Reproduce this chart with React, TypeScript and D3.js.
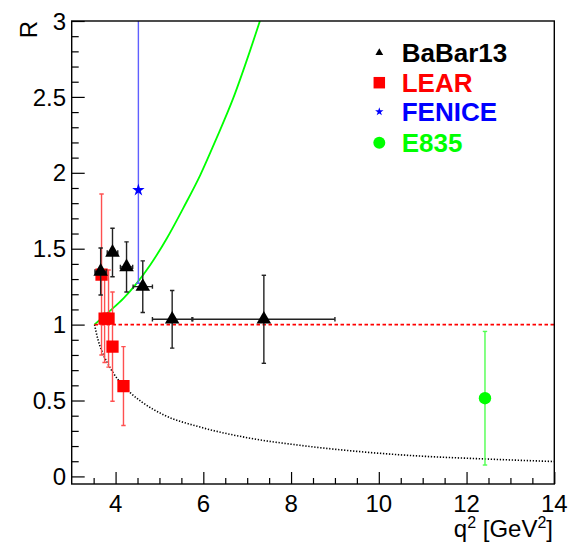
import { useRef, useEffect } from "react";
import * as d3 from "d3";

// BaBar13 (black triangles)
const babarQ = [3.66, 3.93, 4.25, 4.62, 5.29, 7.38];
const babarR = [1.35, 1.475, 1.38, 1.25, 1.035, 1.035];
const babarQErr = [0.13, 0.12, 0.14, 0.22, 0.45, 1.62];
const babarRErr = [0.155, 0.16, 0.165, 0.17, 0.19, 0.29];

// LEAR (red squares)
const learQ = [3.68, 3.75, 3.84, 3.93, 4.18];
const learR = [1.33, 1.04, 1.04, 0.855, 0.595];
const learRErr = [0.53, 0.29, 0.32, 0.36, 0.26];

// FENICE (blue star), upper error runs off the top
const feniceQ = [4.52];
const feniceR = [1.886];
const feniceErrLow = [0.614];
const feniceErrHigh = [1.5];

// E835 (green circle)
const e835Q = [12.42];
const e835R = [0.515];
const e835RErr = [0.44];

// curves
const greenQ = [3.52, 3.87, 4.18, 4.48, 4.79, 5.17, 5.54, 5.93, 6.3, 6.68, 7.06, 7.29];
const greenR = [1.0, 1.09, 1.173, 1.272, 1.393, 1.569, 1.766, 1.985, 2.227, 2.49, 2.8, 3.0];
const dotQ = [3.52, 3.6, 3.68, 3.8, 3.95, 4.15, 4.34, 4.6, 5.1, 5.93, 7.0, 8.2, 9.5, 10.94, 12.42, 14];
const dotR = [1.0, 0.9, 0.83, 0.755, 0.68, 0.605, 0.55, 0.49, 0.405, 0.325, 0.255, 0.205, 0.165, 0.134, 0.115, 0.098];
const unityQ = [3.52, 14];
const unityR = [1, 1];

const xMajor = [4, 6, 8, 10, 12, 14];
const yMajor = [0, 0.5, 1, 1.5, 2, 2.5, 3];

const legendLabels = ["BaBar13", "LEAR", "FENICE", "E835"];
const legendColors = ["#000000", "#ff0000", "#0000ff", "#00ff00"];

const W = 571;
const H = 545;
const FONT = "'Liberation Sans', Arial, Helvetica, sans-serif";

export default function App() {
    const svgRef = useRef<SVGSVGElement | null>(null);

    useEffect(() => {
        if (!svgRef.current) return;
        const svg = d3.select(svgRef.current);
        svg.selectAll("*").remove();

        const x = d3.scaleLinear().domain([3, 14]).range([71.7, 554.3]);
        const y = d3.scaleLinear().domain([-0.05, 3]).range([484, 21]);
        const [x0, x1] = x.range();
        const [y0, y1] = y.range();

        svg.append("defs")
            .append("clipPath")
            .attr("id", "plot-clip")
            .append("rect")
            .attr("x", x0)
            .attr("y", y1)
            .attr("width", x1 - x0)
            .attr("height", y0 - y1);

        const plot = svg.append("g").attr("clip-path", "url(#plot-clip)");

        // dotted black curve
        plot.append("path")
            .attr("d", d3.line<number>().x(d => x(d)).y((_, i) => y(dotR[i])).curve(d3.curveMonotoneX)(dotQ)!)
            .attr("fill", "none")
            .attr("stroke", "#000")
            .attr("stroke-width", 1.6)
            .attr("stroke-dasharray", "1.3,1.7");

        // green curve
        plot.append("path")
            .attr("d", d3.line<number>().x(d => x(d)).y((_, i) => y(greenR[i])).curve(d3.curveMonotoneX)(greenQ)!)
            .attr("fill", "none")
            .attr("stroke", "#00ff00")
            .attr("stroke-width", 1.8);

        // red dashed line at R = 1
        plot.append("path")
            .attr("d", d3.line<number>().x(d => x(d)).y((_, i) => y(unityR[i]))(unityQ)!)
            .attr("fill", "none")
            .attr("stroke", "#ff0000")
            .attr("stroke-width", 1.8)
            .attr("stroke-dasharray", "3.5,2.5");

        const cap = 2.2;
        const vErr = (g: any, q: number, lo: number, hi: number, color: string) => {
            g.append("line").attr("x1", x(q)).attr("x2", x(q)).attr("y1", y(lo)).attr("y2", y(hi))
                .attr("stroke", color).attr("stroke-width", 1.4);
            [lo, hi].forEach(v => {
                g.append("line").attr("x1", x(q) - cap).attr("x2", x(q) + cap).attr("y1", y(v)).attr("y2", y(v))
                    .attr("stroke", color).attr("stroke-width", 1.4);
            });
        };
        const hErr = (g: any, lo: number, hi: number, r: number, color: string) => {
            g.append("line").attr("x1", x(lo)).attr("x2", x(hi)).attr("y1", y(r)).attr("y2", y(r))
                .attr("stroke", color).attr("stroke-width", 1.4);
            [lo, hi].forEach(v => {
                g.append("line").attr("x1", x(v)).attr("x2", x(v)).attr("y1", y(r) - cap).attr("y2", y(r) + cap)
                    .attr("stroke", color).attr("stroke-width", 1.4);
            });
        };

        // LEAR
        const gLear = plot.append("g");
        learQ.forEach((q, i) => vErr(gLear, q, learR[i] - learRErr[i], learR[i] + learRErr[i], "#ff5050"));
        learQ.forEach((q, i) => {
            gLear.append("path")
                .attr("d", d3.symbol(d3.symbolSquare, 150)()!)
                .attr("transform", `translate(${x(q)},${y(learR[i])})`)
                .attr("fill", "#ff0000");
        });

        // FENICE
        const gFen = plot.append("g");
        feniceQ.forEach((q, i) => vErr(gFen, q, feniceR[i] - feniceErrLow[i], feniceR[i] + feniceErrHigh[i], "#6060ff"));
        feniceQ.forEach((q, i) => {
            gFen.append("path")
                .attr("d", d3.symbol(d3.symbolStar, 48)()!)
                .attr("transform", `translate(${x(q)},${y(feniceR[i])})`)
                .attr("fill", "#0000ff");
        });

        // E835
        const gE = plot.append("g");
        e835Q.forEach((q, i) => vErr(gE, q, e835R[i] - e835RErr[i], e835R[i] + e835RErr[i], "#50ff50"));
        e835Q.forEach((q, i) => {
            gE.append("circle").attr("cx", x(q)).attr("cy", y(e835R[i])).attr("r", 6.2).attr("fill", "#00ff00");
        });

        // BaBar13
        const gB = plot.append("g");
        babarQ.forEach((q, i) => {
            vErr(gB, q, babarR[i] - babarRErr[i], babarR[i] + babarRErr[i], "#222");
            hErr(gB, q - babarQErr[i], q + babarQErr[i], babarR[i], "#222");
        });
        babarQ.forEach((q, i) => {
            gB.append("path")
                .attr("d", d3.symbol(d3.symbolTriangle, 92)()!)
                .attr("transform", `translate(${x(q)},${y(babarR[i])})`)
                .attr("fill", "#000");
        });

        // axes (ticks point inward)
        const xMinor = d3.range(3.5, 14, 0.5).filter(v => !xMajor.includes(v));
        const yMinor = d3.range(0.1, 3, 0.1).map(v => +v.toFixed(1)).filter(v => !yMajor.includes(v));

        const ax = svg.append("g").attr("transform", `translate(0,${y0})`);
        ax.call(d3.axisBottom(x).tickValues(xMajor).tickSize(-12).tickFormat(() => ""));
        ax.append("g").call(d3.axisBottom(x).tickValues(xMinor).tickSize(-6).tickFormat(() => ""));
        ax.selectAll(".domain").remove();

        const ay = svg.append("g").attr("transform", `translate(${x0},0)`);
        ay.call(d3.axisLeft(y).tickValues(yMajor).tickSize(-13).tickFormat(() => ""));
        ay.append("g").call(d3.axisLeft(y).tickValues(yMinor).tickSize(-7).tickFormat(() => ""));
        ay.selectAll(".domain").remove();
        svg.selectAll(".tick line").attr("stroke", "#000").attr("stroke-width", 1.2);

        // frame
        svg.append("rect")
            .attr("x", x0).attr("y", y1).attr("width", x1 - x0).attr("height", y0 - y1)
            .attr("fill", "none").attr("stroke", "#000").attr("stroke-width", 1.4);

        // tick labels
        svg.append("g").selectAll("text").data(xMajor).join("text")
            .attr("x", d => x(d)).attr("y", 512)
            .attr("text-anchor", "middle")
            .attr("font-family", FONT).attr("font-size", 24)
            .text(d => d);
        svg.append("g").selectAll("text").data(yMajor).join("text")
            .attr("x", 66).attr("y", d => y(d))
            .attr("dy", "0.36em")
            .attr("text-anchor", "end")
            .attr("font-family", FONT).attr("font-size", 24)
            .text(d => d);

        // axis titles
        const xt = svg.append("text")
            .attr("x", 553).attr("y", 537)
            .attr("text-anchor", "end")
            .attr("font-family", FONT).attr("font-size", 24);
        xt.append("tspan").text("q");
        xt.append("tspan").attr("dy", -9).attr("font-size", 16).text("2");
        xt.append("tspan").attr("dy", 9).text(" [GeV");
        xt.append("tspan").attr("dy", -9).attr("font-size", 16).text("2");
        xt.append("tspan").attr("dy", 9).text("]");

        svg.append("text")
            .attr("transform", "translate(37,21) rotate(-90)")
            .attr("text-anchor", "end")
            .attr("font-family", FONT).attr("font-size", 24)
            .text("R");

        // legend
        const lg = svg.append("g");
        const rowY = [52.7, 82.7, 111.7, 142.7];
        const legendSymbols = [
            d3.symbol(d3.symbolTriangle, 26)(),
            d3.symbol(d3.symbolSquare, 132)(),
            d3.symbol(d3.symbolStar, 22)(),
            null,
        ];
        legendLabels.forEach((label, i) => {
            if (legendSymbols[i]) {
                lg.append("path").attr("d", legendSymbols[i]!)
                    .attr("transform", `translate(379.3,${rowY[i]})`)
                    .attr("fill", legendColors[i]);
            } else {
                lg.append("circle").attr("cx", 379.3).attr("cy", rowY[i]).attr("r", 6).attr("fill", legendColors[i]);
            }
            lg.append("text")
                .attr("x", 401.7).attr("y", rowY[i] + 9)
                .attr("font-family", FONT).attr("font-size", 26).attr("font-weight", "bold")
                .attr("fill", legendColors[i])
                .text(label);
        });
    }, []);

    return (
        <svg
            ref={svgRef}
            width={W}
            height={H}
            style={{ position: "absolute", left: 0, top: 0, background: "#fff" }}
        />
    );
}
